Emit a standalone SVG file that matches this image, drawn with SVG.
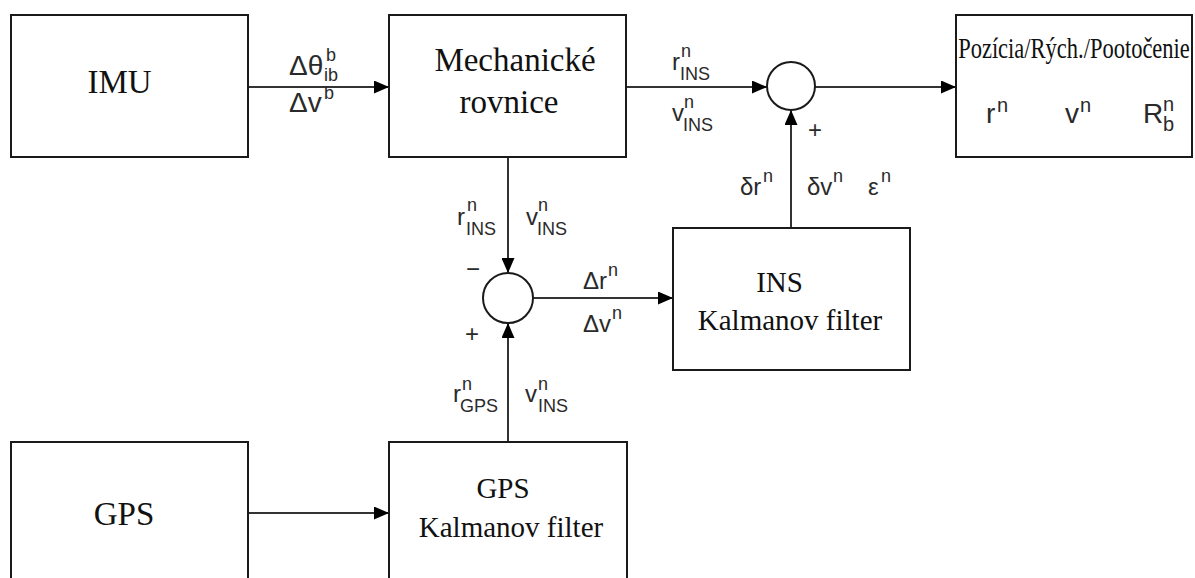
<svg xmlns="http://www.w3.org/2000/svg" width="1195" height="578" viewBox="0 0 1195 578">
<defs>
<style>
.box{fill:#fff;stroke:#1a1a1a;stroke-width:2}
.sum{fill:#fff;stroke:#1a1a1a;stroke-width:2}
.ln{fill:none;stroke:#333;stroke-width:2}
.blk{font-family:"Liberation Serif","Times New Roman",serif;fill:#111;text-anchor:middle}
.lb{font-family:"Liberation Sans",Arial,sans-serif;fill:#2a2a2a}
.m{font-size:24px}
.s{font-size:18px}
.big{font-size:28px}
.bs{font-size:20px}
</style>
<marker id="ah" viewBox="0 0 15 13" refX="15" refY="6.5" markerWidth="15" markerHeight="13" markerUnits="userSpaceOnUse" orient="auto">
<path d="M0,0 L15,6.5 L0,13 Z" fill="#000"/>
</marker>
</defs>
<rect width="1195" height="578" fill="#fff"/>

<g id="connectors">
<line class="ln" x1="248" y1="87" x2="389" y2="87" marker-end="url(#ah)"/>
<line class="ln" x1="626" y1="87" x2="767" y2="87" marker-end="url(#ah)"/>
<line class="ln" x1="815" y1="87" x2="956" y2="87" marker-end="url(#ah)"/>
<line class="ln" x1="791" y1="228" x2="791" y2="110" marker-end="url(#ah)"/>
<line class="ln" x1="508" y1="157" x2="508" y2="273" marker-end="url(#ah)"/>
<line class="ln" x1="533" y1="298" x2="673" y2="298" marker-end="url(#ah)"/>
<line class="ln" x1="508" y1="442" x2="508" y2="323" marker-end="url(#ah)"/>
<line class="ln" x1="248" y1="513" x2="389" y2="513" marker-end="url(#ah)"/>
</g>

<g id="imu">
<rect class="box" x="11" y="15" width="237" height="142"/>
<text class="blk" x="119.5" y="93" font-size="33">IMU</text>
</g>

<g id="mech">
<rect class="box" x="389" y="15" width="237" height="142"/>
<text class="blk" x="515" y="71" font-size="33">Mechanické</text>
<text class="blk" x="509" y="113" font-size="33">rovnice</text>
</g>

<g id="output">
<rect class="box" x="956" y="15" width="236" height="142"/>
<text class="blk" transform="scale(0.75,1)" x="1432" y="58" font-size="30">Pozícia/Rých./Pootočenie</text>
<text class="lb big" x="986" y="123">r</text><text class="lb bs" x="997" y="112">n</text>
<text class="lb big" x="1065" y="123">v</text><text class="lb bs" x="1080" y="112">n</text>
<text class="lb big" x="1143" y="123">R</text><text class="lb bs" x="1163" y="111">n</text><text class="lb bs" x="1163" y="131">b</text>
</g>

<g id="sum1">
<circle class="sum" cx="791" cy="86" r="24"/>
<text class="lb m" x="808" y="138">+</text>
</g>

<g id="sum2">
<circle class="sum" cx="508" cy="298" r="25"/>
<text class="lb m" x="466" y="277">−</text>
<text class="lb m" x="465" y="342">+</text>
</g>

<g id="ins_kf">
<rect class="box" x="673" y="228" width="237" height="142"/>
<text class="blk" x="779.5" y="292" font-size="29">INS</text>
<text class="blk" x="790" y="330" font-size="29">Kalmanov filter</text>
</g>

<g id="gps">
<rect class="box" x="11" y="442" width="237" height="150"/>
<text class="blk" x="124" y="525" font-size="33">GPS</text>
</g>

<g id="gps_kf">
<rect class="box" x="389" y="442" width="238" height="150"/>
<text class="blk" x="503" y="498" font-size="29">GPS</text>
<text class="blk" x="511" y="537" font-size="29">Kalmanov filter</text>
</g>

<g id="labels">
<text class="lb" font-size="28" x="289" y="75">Δθ</text><text class="lb s" x="326" y="61">b</text><text class="lb s" x="324" y="81">ib</text>
<text class="lb" font-size="28" x="289" y="112">Δv</text><text class="lb s" x="324" y="99">b</text>

<text class="lb m" x="672" y="70">r</text><text class="lb s" x="681" y="57">n</text><text class="lb s" x="680" y="80">INS</text>
<text class="lb m" x="672" y="121">v</text><text class="lb s" x="684" y="108">n</text><text class="lb s" x="683" y="131">INS</text>

<text class="lb m" x="457" y="225">r</text><text class="lb s" x="467" y="211">n</text><text class="lb s" x="466" y="235">INS</text>
<text class="lb m" x="526" y="225">v</text><text class="lb s" x="538" y="211">n</text><text class="lb s" x="537" y="235">INS</text>

<text class="lb m" x="583" y="289">Δr</text><text class="lb s" x="608" y="276">n</text>
<text class="lb m" x="583" y="332">Δv</text><text class="lb s" x="612" y="319">n</text>

<text class="lb m" x="740" y="195">δr</text><text class="lb s" x="763" y="182">n</text>
<text class="lb m" x="807" y="195">δv</text><text class="lb s" x="833" y="182">n</text>
<text class="lb m" x="868" y="195">ε</text><text class="lb s" x="881" y="182">n</text>

<text class="lb m" x="453" y="402">r</text><text class="lb s" x="462" y="390">n</text><text class="lb s" x="460" y="412">GPS</text>
<text class="lb m" x="525" y="402">v</text><text class="lb s" x="538" y="390">n</text><text class="lb s" x="538" y="412">INS</text>
</g>
</svg>
